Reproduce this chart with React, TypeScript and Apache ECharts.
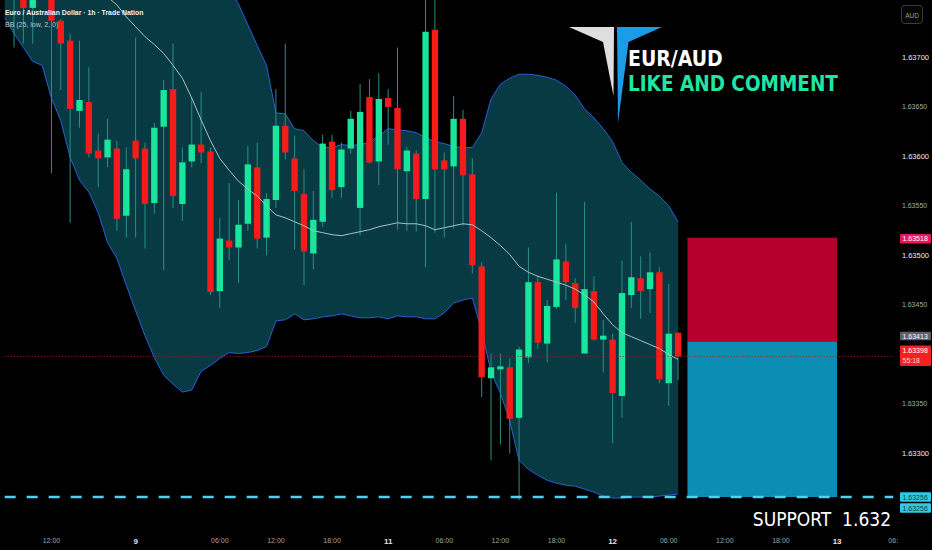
import React, { useEffect, useRef } from "react";
import * as echarts from "echarts";

// ---- candle data (1h EUR/AUD), index i = 0..71 ----
const opens = [1.6379, 1.63763, 1.6375, 1.6377, 1.63766, 1.63737, 1.63717, 1.63646, 1.63655, 1.63606, 1.63599, 1.63608, 1.6354, 1.63616, 1.63608, 1.63553, 1.6363, 1.63668, 1.63552, 1.63595, 1.63612, 1.63605, 1.63464, 1.63515, 1.63508, 1.63532, 1.63589, 1.63518, 1.63556, 1.63631, 1.63598, 1.63562, 1.63502, 1.63534, 1.63615, 1.63569, 1.63608, 1.63548, 1.6366, 1.63595, 1.63659, 1.63649, 1.63585, 1.63603, 1.63557, 1.63728, 1.63596, 1.6359, 1.63638, 1.63582, 1.63489, 1.63376, 1.63385, 1.63387, 1.63336, 1.63397, 1.63473, 1.63411, 1.63448, 1.63494, 1.63472, 1.63401, 1.63464, 1.63415, 1.63415, 1.63358, 1.6346, 1.63477, 1.63466, 1.63483, 1.63371, 1.63422];
const closes = [1.63772, 1.6375, 1.63761, 1.6379, 1.63737, 1.63714, 1.63648, 1.63657, 1.63603, 1.63598, 1.63617, 1.63537, 1.63587, 1.63598, 1.63552, 1.63629, 1.63667, 1.6356, 1.63594, 1.63612, 1.63604, 1.63463, 1.63517, 1.63508, 1.63531, 1.63592, 1.63517, 1.63557, 1.63631, 1.63604, 1.63565, 1.63504, 1.63536, 1.63613, 1.63566, 1.63607, 1.63638, 1.63645, 1.63594, 1.63658, 1.6365, 1.63587, 1.63606, 1.63557, 1.63726, 1.63587, 1.63587, 1.63638, 1.63581, 1.6349, 1.63377, 1.63387, 1.63388, 1.63335, 1.63405, 1.63473, 1.63412, 1.63449, 1.63496, 1.63473, 1.63447, 1.63466, 1.63415, 1.63419, 1.63361, 1.63462, 1.63478, 1.63464, 1.63483, 1.63375, 1.63421, 1.63398];
const lows = [1.6371, 1.63714, 1.63714, 1.63762, 1.63583, 1.63667, 1.63533, 1.63629, 1.63599, 1.63569, 1.63589, 1.63525, 1.63518, 1.63518, 1.63507, 1.63542, 1.63485, 1.63548, 1.63535, 1.63589, 1.63593, 1.6346, 1.63447, 1.63495, 1.63472, 1.63525, 1.63507, 1.635, 1.63548, 1.63597, 1.63506, 1.6347, 1.63486, 1.63529, 1.63558, 1.63558, 1.63603, 1.6352, 1.63593, 1.63571, 1.63612, 1.63526, 1.63525, 1.63524, 1.63488, 1.63523, 1.63518, 1.63527, 1.6353, 1.63482, 1.63357, 1.63293, 1.63309, 1.633, 1.63253, 1.63391, 1.63406, 1.63392, 1.63446, 1.63455, 1.63432, 1.63401, 1.63414, 1.63382, 1.6331, 1.63336, 1.63447, 1.63436, 1.63442, 1.63371, 1.63348, 1.63374];
const highs = [1.638, 1.6377, 1.63768, 1.638, 1.63773, 1.63739, 1.63724, 1.63717, 1.6369, 1.63623, 1.63638, 1.63616, 1.63609, 1.6372, 1.63614, 1.63634, 1.63677, 1.63714, 1.63609, 1.63659, 1.63665, 1.63609, 1.63538, 1.63573, 1.63556, 1.63611, 1.63614, 1.63563, 1.63668, 1.63714, 1.63621, 1.63587, 1.63565, 1.63622, 1.63622, 1.63614, 1.63646, 1.63673, 1.63678, 1.63684, 1.63668, 1.6371, 1.6361, 1.63606, 1.63768, 1.63763, 1.63604, 1.63661, 1.63647, 1.63598, 1.63493, 1.63401, 1.63401, 1.63396, 1.63408, 1.63508, 1.6348, 1.63455, 1.63563, 1.63512, 1.63477, 1.63554, 1.63479, 1.63435, 1.63421, 1.63495, 1.63534, 1.63499, 1.63503, 1.63488, 1.63471, 1.63422];

// ---- Bollinger bands BB(25, low, 2), one bar earlier than the candles (index j = 0..72) ----
const bbUpper = [1.63987, 1.63983, 1.63977, 1.63971, 1.63955, 1.63968, 1.6397, 1.63987, 1.63994, 1.63988, 1.63992, 1.64008, 1.64008, 1.64013, 1.64018, 1.64023, 1.64029, 1.64029, 1.64014, 1.63996, 1.63954, 1.63892, 1.63843, 1.638, 1.6377, 1.63754, 1.63733, 1.63712, 1.63692, 1.63644, 1.63643, 1.63628, 1.63626, 1.63616, 1.63609, 1.63609, 1.63612, 1.63611, 1.63612, 1.63614, 1.63621, 1.63628, 1.63627, 1.63626, 1.63624, 1.63619, 1.63615, 1.63613, 1.6361, 1.63609, 1.63609, 1.63624, 1.63658, 1.63673, 1.63679, 1.63683, 1.63683, 1.63682, 1.6368, 1.63677, 1.63671, 1.63662, 1.63648, 1.63639, 1.63628, 1.63615, 1.63594, 1.63584, 1.63576, 1.63567, 1.6356, 1.6355, 1.63534];
const bbMiddle = [1.63864, 1.63854, 1.63843, 1.63833, 1.63823, 1.63813, 1.63803, 1.63793, 1.63785, 1.63776, 1.63768, 1.63761, 1.63753, 1.63741, 1.63731, 1.63721, 1.63713, 1.63704, 1.63692, 1.63679, 1.63659, 1.63637, 1.63616, 1.63598, 1.63586, 1.63575, 1.63567, 1.6356, 1.6355, 1.63541, 1.63538, 1.63534, 1.6353, 1.63525, 1.63523, 1.63521, 1.6352, 1.63522, 1.63524, 1.63526, 1.63529, 1.63531, 1.63533, 1.63532, 1.63532, 1.6353, 1.63526, 1.63528, 1.6353, 1.63532, 1.63531, 1.63525, 1.63518, 1.6351, 1.63501, 1.63489, 1.63483, 1.63479, 1.63476, 1.63473, 1.6347, 1.63466, 1.6346, 1.63453, 1.63441, 1.6343, 1.63422, 1.63418, 1.63414, 1.6341, 1.63406, 1.634, 1.63395];
const bbLower = [1.6374, 1.63724, 1.6371, 1.63696, 1.63692, 1.63659, 1.63636, 1.63599, 1.63576, 1.63564, 1.63543, 1.63513, 1.63497, 1.6347, 1.63444, 1.63419, 1.63397, 1.63379, 1.6337, 1.63362, 1.63364, 1.63383, 1.63389, 1.63396, 1.63402, 1.63401, 1.63402, 1.63404, 1.63408, 1.63434, 1.63435, 1.63441, 1.63435, 1.63436, 1.63438, 1.63439, 1.63441, 1.63439, 1.63437, 1.63437, 1.63438, 1.63436, 1.63439, 1.63438, 1.63438, 1.63436, 1.63436, 1.63442, 1.63452, 1.63455, 1.63457, 1.63424, 1.63382, 1.63361, 1.63333, 1.63293, 1.63284, 1.63278, 1.63273, 1.6327, 1.63268, 1.63267, 1.63264, 1.63261, 1.63257, 1.63255, 1.63255, 1.63256, 1.63256, 1.63256, 1.63257, 1.63258, 1.63259];

// ---- time axis tick labels (candle index -> text) ----
const tickIndex = [4, 13, 22, 28, 34, 40, 46, 52, 58, 64, 70, 76, 82, 88, 94];
const tickText = ["12:00", "9", "06:00", "12:00", "18:00", "11", "06:00", "12:00", "18:00", "12", "06:00", "12:00", "18:00", "13", "06:"];
const dayTicks = ["9", "11", "12", "13"];
const hiddenPriceLabels = ["1.63750", "1.63400", "1.63250"];

// ---- levels ----
const stopPrice = 1.63518;
const entryPrice = 1.63413;
const targetPrice = 1.63256;
const lastPrice = 1.63398;
const positionFrom = 72; // candle index
const positionTo = 88;

const CATEGORY_COUNT = 96;
const UP = "#19e69c";
const DOWN = "#f51b1b";
const WICK = "#2a8f86";
const FONT = '"Liberation Sans", Arial, sans-serif';
const COND = '"DejaVu Sans Condensed", "DejaVu Sans", sans-serif';

export default function App() {
  const ref = useRef<HTMLDivElement>(null);

  useEffect(() => {
    if (!ref.current) return;
    const chart = echarts.init(ref.current, undefined, { renderer: "svg" });

    const cats = Array.from({ length: CATEGORY_COUNT }, (_, j) => String(j));
    const labelByCat: Record<string, string> = {};
    tickIndex.forEach((i, k) => (labelByCat[String(i + 1)] = tickText[k]));

    const candleData = opens.map((o, i) => [i + 1, o, closes[i], lows[i], highs[i]]);
    const bandWidth = bbUpper.map((u, j) => +(u - bbLower[j]).toFixed(5));
    const levelLine = (p: number) => cats.map(() => p);

    const option: any = {
      animation: false,
      backgroundColor: "#000000",
      grid: { left: -5.4, right: 31, top: 0, bottom: 47, containLabel: false },
      xAxis: {
        type: "category",
        data: cats,
        boundaryGap: true,
        axisLine: { show: false },
        axisTick: { show: false },
        splitLine: { show: false },
        axisLabel: {
          interval: 0,
          margin: 34,
          formatter: (v: string) => {
            const t = labelByCat[v];
            if (!t) return "";
            return dayTicks.includes(t) ? `{d|${t}}` : `{t|${t}}`;
          },
          rich: {
            d: { fontSize: 8, color: "#e6e6e6", fontWeight: "bold", fontFamily: FONT },
            t: { fontSize: 7, color: "#a4a4a4", fontFamily: FONT },
          },
        },
      },
      yAxis: {
        type: "value",
        position: "right",
        min: 1.6325,
        max: 1.63758,
        interval: 0.0005,
        scale: true,
        axisLine: { show: false },
        axisTick: { show: false },
        splitLine: { show: false },
        axisLabel: {
          margin: 4,
          align: "left",
          formatter: (v: number) => {
            const k = Math.round(v / 0.0005);
            if (Math.abs(v - k * 0.0005) > 1e-8) return "";
            const s = v.toFixed(5);
            if (hiddenPriceLabels.includes(s)) return "";
            return k % 2 === 0 ? `{a|${s}}` : `{b|${s}}`;
          },
          rich: {
            a: { fontSize: 7.5, color: "#ececec", fontFamily: FONT },
            b: { fontSize: 7, color: "#a8a8a8", fontFamily: FONT },
          },
        },
      },
      series: [
        {
          type: "line",
          data: bbLower,
          stack: "bb",
          symbol: "none",
          lineStyle: { opacity: 0 },
          silent: true,
          z: 1,
        },
        {
          type: "line",
          data: bandWidth,
          stack: "bb",
          symbol: "none",
          lineStyle: { opacity: 0 },
          areaStyle: { color: "#073a42", opacity: 1 },
          silent: true,
          z: 1,
        },
        {
          type: "line",
          data: bbUpper,
          symbol: "none",
          lineStyle: { color: "#2d5fd1", width: 1 },
          silent: true,
          z: 2,
        },
        {
          type: "line",
          data: bbLower,
          symbol: "none",
          lineStyle: { color: "#2d5fd1", width: 1 },
          silent: true,
          z: 2,
        },
        {
          type: "custom",
          data: candleData,
          encode: { x: 0, y: [1, 2, 3, 4] },
          clip: true,
          z: 3,
          renderItem: (params: any, api: any) => {
            const j = api.value(0);
            const o = api.value(1);
            const c = api.value(2);
            const l = api.value(3);
            const h = api.value(4);
            const x = api.coord([j, o])[0];
            const yo = api.coord([j, o])[1];
            const yc = api.coord([j, c])[1];
            const yl = api.coord([j, l])[1];
            const yh = api.coord([j, h])[1];
            const w = api.size([1, 0])[0] * 0.68;
            const up = c >= o;
            const top = Math.min(yo, yc);
            const bh = Math.max(1, Math.abs(yo - yc));
            return {
              type: "group",
              children: [
                { type: "line", shape: { x1: x, y1: yh, x2: x, y2: yl }, style: { stroke: WICK, lineWidth: 1 } },
                { type: "rect", shape: { x: x - w / 2, y: top, width: w, height: bh }, style: { fill: up ? UP : DOWN } },
              ],
            };
          },
        },
        {
          type: "line",
          data: bbMiddle,
          symbol: "none",
          lineStyle: { color: "#a9c1c4", width: 1 },
          silent: true,
          z: 4,
          markArea: {
            silent: true,
            data: [
              [
                { xAxis: String(positionFrom + 1), yAxis: stopPrice, itemStyle: { color: "#b5002e", opacity: 1 } },
                { xAxis: String(positionTo + 1), yAxis: entryPrice },
              ],
              [
                { xAxis: String(positionFrom + 1), yAxis: entryPrice, itemStyle: { color: "#0c8db2", opacity: 1 } },
                { xAxis: String(positionTo + 1), yAxis: targetPrice },
              ],
            ],
          },
        },
        {
          type: "line",
          data: levelLine(lastPrice),
          symbol: "none",
          lineStyle: { color: "#a32020", width: 1, type: [1, 2] },
          silent: true,
          z: 5,
        },
        {
          type: "line",
          data: levelLine(targetPrice),
          symbol: "none",
          lineStyle: { color: "#4fd2ee", width: 2.6, type: [11, 11] },
          silent: true,
          z: 6,
        },
      ],
    };

    chart.setOption(option);

    const y = (p: number) => chart.convertToPixel({ yAxisIndex: 0 }, p) as number;
    const tag = (p: number, text: string, fill: string, color: string, dy: number, h: number) => ({
      type: "group",
      z: 100,
      children: [
        { type: "rect", z: 100, shape: { x: 900, y: y(p) + dy - h / 2, width: 31, height: h, r: 1 }, style: { fill } },
        {
          type: "text",
          z: 101,
          style: { x: 902.5, y: y(p) + dy, text, fill: color, font: `7px ${FONT}`, align: "left", verticalAlign: "middle" },
        },
      ],
    });

    const yl = y(lastPrice);
    chart.setOption({
      graphic: [
        {
          type: "text",
          z: 100,
          style: {
            x: 5, y: 12, text: "Euro / Australian Dollar · 1h · Trade Nation",
            fill: "#f2f2f2", font: `bold 6.9px ${FONT}`, align: "left", verticalAlign: "middle",
          },
        },
        {
          type: "text",
          z: 100,
          style: { x: 5, y: 24, text: "BB (25, low, 2, 0)", fill: "#c4c4c4", font: `7px ${FONT}`, align: "left", verticalAlign: "middle" },
        },
        {
          type: "polygon",
          z: 100,
          shape: { points: [[569, 27], [614, 27], [613.5, 96], [603, 42]] },
          style: { fill: "#dedede" },
        },
        {
          type: "polygon",
          z: 100,
          shape: { points: [[617, 27], [662, 27], [628.5, 42], [618, 123]] },
          style: { fill: "#1c9be6" },
        },
        {
          type: "text",
          z: 100,
          style: { x: 628, y: 59, text: "EUR/AUD", fill: "#ffffff", font: `bold 21px ${COND}`, align: "left", verticalAlign: "middle" },
        },
        {
          type: "text",
          z: 100,
          style: { x: 628, y: 84, text: "LIKE AND COMMENT", fill: "#1fe6a0", font: `bold 20.5px ${COND}`, align: "left", verticalAlign: "middle" },
        },
        {
          type: "text",
          z: 100,
          style: { x: 891, y: 519, text: "SUPPORT  1.632", fill: "#ffffff", font: `19px ${COND}`, align: "right", verticalAlign: "middle" },
        },
        {
          type: "rect",
          z: 100,
          shape: { x: 901.5, y: 5.5, width: 21, height: 18, r: 3 },
          style: { fill: "#060606", stroke: "#3c3c3c", lineWidth: 1 },
        },
        {
          type: "text",
          z: 101,
          style: { x: 912, y: 15, text: "AUD", fill: "#9a9a9a", font: `6.5px ${FONT}`, align: "center", verticalAlign: "middle" },
        },
        tag(stopPrice, "1.63518", "#e8175d", "#ffffff", 1, 9.5),
        tag(entryPrice, "1.63413", "#5f6168", "#ffffff", -5.5, 8.5),
        {
          type: "group",
          z: 100,
          children: [
            { type: "rect", z: 100, shape: { x: 900, y: yl - 11, width: 31, height: 20.5, r: 1 }, style: { fill: "#f22222" } },
            { type: "text", z: 101, style: { x: 902.5, y: yl - 6, text: "1.63398", fill: "#ffffff", font: `7px ${FONT}`, align: "left", verticalAlign: "middle" } },
            { type: "text", z: 101, style: { x: 902.5, y: yl + 4, text: "55:18", fill: "#ffd6d6", font: `7px ${FONT}`, align: "left", verticalAlign: "middle" } },
          ],
        },
        tag(targetPrice, "1.63256", "#2fc8e8", "#15394a", 0, 9.5),
        tag(targetPrice, "1.63256", "#2fc8e8", "#15394a", 11, 9.5),
      ],
    });

    return () => chart.dispose();
  }, []);

  return (
    <div
      ref={ref}
      style={{ position: "fixed", left: 0, top: 0, width: 932, height: 550, background: "#000" }}
    />
  );
}
